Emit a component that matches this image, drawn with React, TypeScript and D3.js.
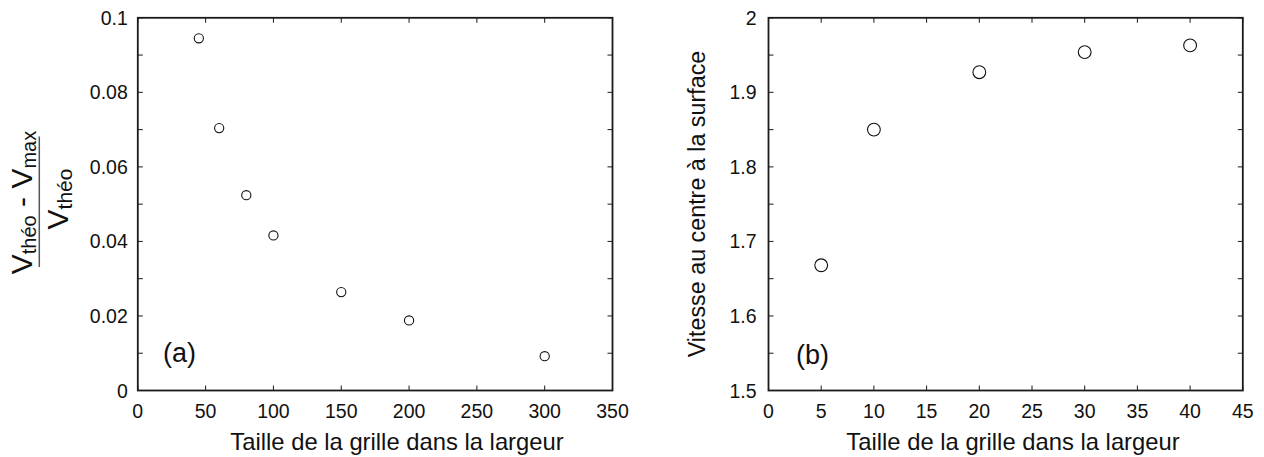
import React from "react";
import * as d3 from "d3";

// Panel (a)
const gridA = [45, 60, 80, 100, 150, 200, 300];
const errA = [0.0945, 0.0704, 0.0524, 0.0416, 0.0264, 0.0188, 0.0092];
const xTicksA = [0, 50, 100, 150, 200, 250, 300, 350];
const yTicksA = [0, 0.02, 0.04, 0.06, 0.08, 0.1];
const yMinorA = [0, 0.01, 0.02, 0.03, 0.04, 0.05, 0.06, 0.07, 0.08, 0.09, 0.1];

// Panel (b)
const gridB = [5, 10, 20, 30, 40];
const vitB = [1.668, 1.85, 1.927, 1.954, 1.963];
const xTicksB = [0, 5, 10, 15, 20, 25, 30, 35, 40, 45];
const yTicksB = [1.5, 1.6, 1.7, 1.8, 1.9, 2];
const yMinorB = [1.5, 1.55, 1.6, 1.65, 1.7, 1.75, 1.8, 1.85, 1.9, 1.95, 2];

const xTitle = "Taille de la grille dans la largeur";
const yTitleB = "Vitesse au centre à la surface";

const FONT = "'Liberation Sans', Arial, Helvetica, sans-serif";
const TICK_FS = 19.5;
const TITLE_FS = 23.8;
const TICK_LEN = 5;

type PanelProps = {
  left: number;
  right: number;
  top: number;
  bottom: number;
  xDomain: [number, number];
  yDomain: [number, number];
  xTicks: number[];
  yTicks: number[];
  yMinor: number[];
  xs: number[];
  ys: number[];
  r: number;
  yLabelGap: number;
  fmtY: (v: number) => string;
  tag: string;
  tagX: number;
  tagY: number;
  titleX: number;
};

function Panel(p: PanelProps) {
  const x = d3.scaleLinear().domain(p.xDomain).range([p.left, p.right]);
  const y = d3.scaleLinear().domain(p.yDomain).range([p.bottom, p.top]);
  const stroke = "#1a1a1a";
  return (
    <g fontFamily={FONT} fill="#111">
      {p.yMinor.map((v, i) => (
        <g key={"ym" + i} stroke={stroke} strokeWidth={1}>
          <line x1={p.left} x2={p.left + TICK_LEN} y1={y(v)} y2={y(v)} />
          <line x1={p.right} x2={p.right - TICK_LEN} y1={y(v)} y2={y(v)} />
        </g>
      ))}
      {p.xTicks.map((v, i) => (
        <g key={"xt" + i} stroke={stroke} strokeWidth={1}>
          <line x1={x(v)} x2={x(v)} y1={p.bottom} y2={p.bottom - TICK_LEN} />
          <line x1={x(v)} x2={x(v)} y1={p.top} y2={p.top + TICK_LEN} />
        </g>
      ))}
      <rect
        x={p.left}
        y={p.top}
        width={p.right - p.left}
        height={p.bottom - p.top}
        fill="none"
        stroke={stroke}
        strokeWidth={1.8}
      />
      {p.xTicks.map((v, i) => (
        <text
          key={"xl" + i}
          x={x(v)}
          y={p.bottom + 27}
          fontSize={TICK_FS}
          textAnchor="middle"
        >
          {String(v)}
        </text>
      ))}
      {p.yTicks.map((v, i) => (
        <text
          key={"yl" + i}
          x={p.left - p.yLabelGap}
          y={y(v)}
          dy="0.36em"
          fontSize={TICK_FS}
          textAnchor="end"
        >
          {p.fmtY(v)}
        </text>
      ))}
      {p.xs.map((v, i) => (
        <circle
          key={"pt" + i}
          cx={x(v)}
          cy={y(p.ys[i])}
          r={p.r}
          fill="white"
          stroke="#111"
          strokeWidth={1.1}
        />
      ))}
      <text x={p.tagX} y={p.tagY} fontSize={27}>
        {p.tag}
      </text>
      <text x={p.titleX} y={450} fontSize={TITLE_FS} textAnchor="middle">
        {xTitle}
      </text>
    </g>
  );
}

export default function App() {
  const top = 17.8;
  const bottom = 390.5;
  const subDy = 4;
  return (
    <svg
      width={1264}
      height={457}
      style={{ position: "absolute", left: 0, top: 0, background: "white" }}
    >
      <rect x={0} y={0} width={1264} height={457} fill="white" />
      <Panel
        left={137.8}
        right={612.5}
        top={top}
        bottom={bottom}
        xDomain={[0, 350]}
        yDomain={[0, 0.1]}
        xTicks={xTicksA}
        yTicks={yTicksA}
        yMinor={yMinorA}
        xs={gridA}
        ys={errA}
        r={4.6}
        yLabelGap={10}
        fmtY={(v) => String(+v.toFixed(2))}
        tag="(a)"
        tagX={163}
        tagY={362}
        titleX={397}
      />
      <Panel
        left={768.5}
        right={1242.8}
        top={top}
        bottom={bottom}
        xDomain={[0, 45]}
        yDomain={[1.5, 2]}
        xTicks={xTicksB}
        yTicks={yTicksB}
        yMinor={yMinorB}
        xs={gridB}
        ys={vitB}
        r={6.4}
        yLabelGap={12}
        fmtY={(v) => String(+v.toFixed(1))}
        tag="(b)"
        tagX={796}
        tagY={364}
        titleX={1013}
      />
      <text
        transform="translate(705,204) rotate(-90)"
        fontFamily={FONT}
        fontSize={23.3}
        textAnchor="middle"
        fill="#111"
      >
        {yTitleB}
      </text>
      <g fontFamily={FONT} fill="#111">
        <text transform="translate(31.5,202.5) rotate(-90)" textAnchor="middle">
          <tspan fontSize={30}>V</tspan>
          <tspan fontSize={20} dy={subDy}>théo</tspan>
          <tspan fontSize={30} dy={-subDy}>{" - V"}</tspan>
          <tspan fontSize={20} dy={subDy}>max</tspan>
        </text>
        <line x1={39.3} x2={39.3} y1={136.5} y2={267} stroke="#555" strokeWidth={1.5} />
        <text transform="translate(68,199) rotate(-90)" textAnchor="middle">
          <tspan fontSize={30}>V</tspan>
          <tspan fontSize={21} dy={subDy}>théo</tspan>
        </text>
      </g>
    </svg>
  );
}
